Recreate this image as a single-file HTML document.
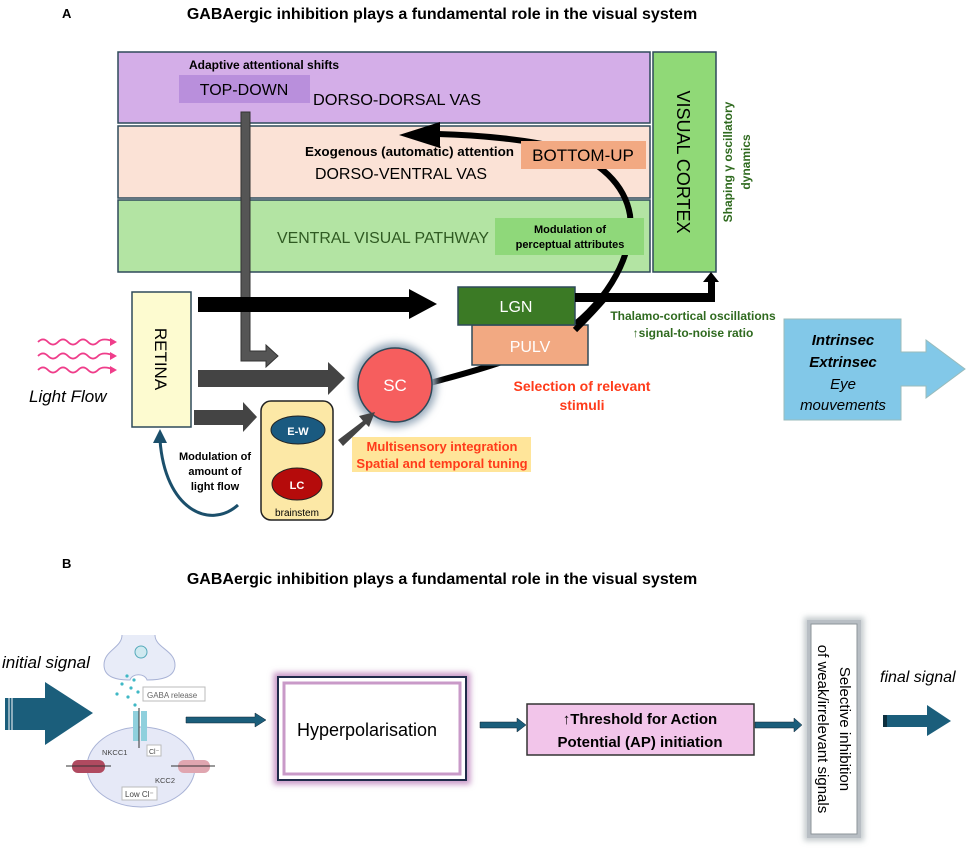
<!DOCTYPE html>
<html><head><meta charset="utf-8"><style>
html,body{margin:0;padding:0;background:#fff;}
svg{display:block;font-family:"Liberation Sans",sans-serif;}
</style></head><body>
<svg width="969" height="850" viewBox="0 0 969 850" xmlns="http://www.w3.org/2000/svg">
<defs>
<filter id="glow" x="-50%" y="-50%" width="200%" height="200%"><feGaussianBlur stdDeviation="4"/></filter>
<filter id="blur2" x="-20%" y="-20%" width="140%" height="140%"><feGaussianBlur stdDeviation="3"/></filter>
</defs>
<!-- Titles -->
<text x="62" y="18" font-size="13" font-weight="bold">A</text>
<text x="442" y="19" font-size="16" font-weight="bold" text-anchor="middle">GABAergic inhibition plays a fundamental role in the visual system</text>

<!-- bands -->
<rect x="118" y="52" width="532" height="71" fill="#d4aee8" stroke="#2e4a5a" stroke-width="1.5"/>
<rect x="118" y="126" width="532" height="72" fill="#fbe2d6" stroke="#2e4a5a" stroke-width="1.5"/>
<rect x="118" y="200" width="532" height="72" fill="#b3e4a3" stroke="#2e4a5a" stroke-width="1.5"/>
<rect x="653" y="52" width="63" height="220" fill="#90d977" stroke="#2e4a5a" stroke-width="1.5"/>
<text transform="translate(677,162) rotate(90)" font-size="18" text-anchor="middle">VISUAL CORTEX</text>
<text transform="translate(732,162) rotate(-90)" font-size="12" font-weight="bold" fill="#2f6a1f" text-anchor="middle">Shaping γ oscillatory</text>
<text transform="translate(750,162) rotate(-90)" font-size="12" font-weight="bold" fill="#2f6a1f" text-anchor="middle">dynamics</text>

<!-- big black curve (behind boxes) -->
<path d="M430,383 C470,372 520,360 560,335 C600,310 635,260 630,215 C625,185 600,160 560,148 C530,140 480,135 438,134" fill="none" stroke="#000" stroke-width="6"/>
<path d="M399,135 L440,122 L440,148 Z" fill="#000"/>

<rect x="179" y="75" width="131" height="28" fill="#b98fdc"/>
<text x="244" y="95" font-size="16" text-anchor="middle">TOP-DOWN</text>
<text x="189" y="69" font-size="12" font-weight="bold">Adaptive attentional shifts</text>
<text x="313" y="105" font-size="16" textLength="168" lengthAdjust="spacingAndGlyphs">DORSO-DORSAL VAS</text>

<text x="305" y="156" font-size="12.5" font-weight="bold" textLength="209" lengthAdjust="spacingAndGlyphs">Exogenous (automatic) attention</text>
<text x="315" y="179" font-size="16" textLength="172" lengthAdjust="spacingAndGlyphs">DORSO-VENTRAL VAS</text>
<rect x="521" y="141" width="125" height="28" fill="#f2a982"/>
<text x="583" y="161" font-size="17" text-anchor="middle">BOTTOM-UP</text>

<text x="277" y="243" font-size="16" fill="#2f5a22" textLength="212" lengthAdjust="spacingAndGlyphs">VENTRAL VISUAL PATHWAY</text>
<rect x="495" y="218" width="149" height="37" fill="#8fd87a"/>
<text x="570" y="233" font-size="11" font-weight="bold" text-anchor="middle">Modulation of</text>
<text x="570" y="248" font-size="11" font-weight="bold" text-anchor="middle">perceptual attributes</text>

<!-- gray top-down bar -->
<path d="M241,112 H250 V351 H266 V345 L278,356 L266,367 V361 H241 Z" fill="#555" stroke="#333" stroke-width="1"/>

<!-- retina -->
<rect x="132" y="292" width="59" height="135" fill="#fdfbd0" stroke="#2e4a5a" stroke-width="1.5"/>
<text transform="translate(155,359) rotate(90)" font-size="17" text-anchor="middle">RETINA</text>
<!-- light waves -->
<g fill="none" stroke="#ef3d8a" stroke-width="1.8">
<path d="M38,342 q5,-5 10,0 t10,0 t10,0 t10,0 t10,0 t10,0 t17,0"/>
<path d="M38,356 q5,-5 10,0 t10,0 t10,0 t10,0 t10,0 t10,0 t17,0"/>
<path d="M38,370 q5,-5 10,0 t10,0 t10,0 t10,0 t10,0 t10,0 t17,0"/>
</g>
<g fill="#ef3d8a"><path d="M117,342 l-7,-4 v8z"/><path d="M117,356 l-7,-4 v8z"/><path d="M117,370 l-7,-4 v8z"/></g>
<text x="29" y="402" font-size="17" font-style="italic">Light Flow</text>

<!-- black arrow retina -> LGN -->
<path d="M198,297 H409 V289 L437,304 L409,319 V312 H198 Z" fill="#000"/>
<!-- gray arrow retina -> SC -->
<path d="M198,370 H328 V362 L345,378 L328,395 V387 H198 Z" fill="#444"/>
<!-- gray arrow retina -> brainstem -->
<path d="M194,410 H243 V402 L257,417 L243,432 V425 H194 Z" fill="#444"/>

<!-- LGN/PULV -->
<rect x="472" y="325" width="116" height="40" fill="#f2a982" stroke="#2e4a5a" stroke-width="1.5"/>
<text x="530" y="352" font-size="16" fill="#fff" text-anchor="middle">PULV</text>
<rect x="458" y="287" width="117" height="38" fill="#3b7a25" stroke="#2e4a5a" stroke-width="1.5"/>
<text x="516" y="312" font-size="16" fill="#fff" text-anchor="middle">LGN</text>
<path d="M575,330 C585,320 595,310 605,298" fill="none" stroke="#000" stroke-width="6"/>
<!-- LGN -> cortex -->
<path d="M575,293 H708 V282 H703 L711,272 L719,282 H715 V302 H575 Z" fill="#000"/>
<text x="693" y="320" font-size="12" font-weight="bold" fill="#2f6a1f" text-anchor="middle">Thalamo-cortical oscillations</text>
<text x="693" y="337" font-size="12" font-weight="bold" fill="#2f6a1f" text-anchor="middle">↑signal-to-noise ratio</text>

<!-- SC -->
<circle cx="395" cy="385" r="42" fill="#9ab" filter="url(#glow)"/>
<circle cx="395" cy="385" r="37" fill="#f65e5e" stroke="#2e4a5a" stroke-width="1.5"/>
<text x="395" y="391" font-size="17" fill="#fff" text-anchor="middle">SC</text>
<text x="582" y="391" font-size="14" font-weight="bold" fill="#ff3b1a" text-anchor="middle">Selection of relevant</text>
<text x="582" y="410" font-size="14" font-weight="bold" fill="#ff3b1a" text-anchor="middle">stimuli</text>

<rect x="352" y="437" width="179" height="35" fill="#ffe59a"/>
<text x="442" y="451" font-size="13" font-weight="bold" fill="#ff3b1a" text-anchor="middle">Multisensory integration</text>
<text x="442" y="468" font-size="13" font-weight="bold" fill="#ff3b1a" text-anchor="middle">Spatial and temporal tuning</text>

<!-- brainstem -->
<rect x="261" y="401" width="72" height="119" rx="10" fill="#fce8a6" stroke="#222" stroke-width="1.5"/>
<ellipse cx="298" cy="430" rx="27" ry="14" fill="#1a5a80" stroke="#222"/>
<text x="298" y="435" font-size="11" font-weight="bold" fill="#fff" text-anchor="middle">E-W</text>
<ellipse cx="297" cy="484" rx="25" ry="16" fill="#b50b0b" stroke="#222"/>
<text x="297" y="489" font-size="11" font-weight="bold" fill="#fff" text-anchor="middle">LC</text>
<text x="297" y="516" font-size="10" text-anchor="middle">brainstem</text>
<!-- diagonal arrow -->
<path d="M338,440 L363,421 L359,416 L375,412 L369,427 L366,424 L343,446 Z" fill="#444"/>

<!-- blue curved arrow -->
<path d="M238,505 C210,530 165,510 160,440" fill="none" stroke="#1b4f6b" stroke-width="3"/>
<path d="M160,429 L153,443 L167,443 Z" fill="#1b4f6b"/>
<text x="215" y="460" font-size="11" font-weight="bold" text-anchor="middle">Modulation of</text>
<text x="215" y="475" font-size="11" font-weight="bold" text-anchor="middle">amount of</text>
<text x="215" y="490" font-size="11" font-weight="bold" text-anchor="middle">light flow</text>

<!-- eye movements -->
<path d="M784,319 H901 V352 H926 V340 L965,369 L926,398 V386 H901 V420 H784 Z" fill="#82c8e8" stroke="#9bb" stroke-width="1"/>
<text x="843" y="345" font-size="15" font-weight="bold" font-style="italic" text-anchor="middle">Intrinsec</text>
<text x="843" y="367" font-size="15" font-weight="bold" font-style="italic" text-anchor="middle">Extrinsec</text>
<text x="843" y="389" font-size="15" font-style="italic" text-anchor="middle">Eye</text>
<text x="843" y="410" font-size="15" font-style="italic" text-anchor="middle">mouvements</text>

<!-- PART B -->
<text x="62" y="568" font-size="13" font-weight="bold">B</text>
<text x="442" y="584" font-size="16" font-weight="bold" text-anchor="middle">GABAergic inhibition plays a fundamental role in the visual system</text>

<text x="2" y="668" font-size="17" font-style="italic">initial signal</text>
<path d="M5,698 H45 V682 L93,713 L45,745 V730 H5 Z" fill="#1b5e7b"/>
<g stroke="#fff" stroke-width="1"><line x1="9" y1="698" x2="9" y2="730"/><line x1="12" y1="698" x2="12" y2="730"/></g>

<!-- synapse -->
<path d="M122,635 C122,648 104,650 104,665 C104,678 118,680 130,680 C132,673 145,673 147,680 C160,680 175,678 175,665 C175,650 155,648 155,635" fill="#e8ecf8" stroke="#a9b3d6" stroke-width="1"/>
<circle cx="141" cy="652" r="6" fill="#cfe9f0" stroke="#5ab" stroke-width="1"/>
<g fill="#3fb8c5"><circle cx="127" cy="676" r="1.6"/><circle cx="134" cy="680" r="1.6"/><circle cx="122" cy="684" r="1.6"/><circle cx="131" cy="688" r="1.6"/><circle cx="117" cy="694" r="1.6"/><circle cx="128" cy="697" r="1.6"/><circle cx="138" cy="692" r="1.6"/><circle cx="135" cy="705" r="1.6"/></g>
<rect x="143" y="687" width="62" height="14" fill="#fff" stroke="#bbb"/>
<text x="147" y="698" font-size="8" fill="#666">GABA release</text>
<ellipse cx="141" cy="767" rx="54" ry="40" fill="#e6e9f7" stroke="#a9b3d6"/>
<path d="M133,711 h6 v30 h-6 z M141,711 h6 v30 h-6 z" fill="#8fd0dd"/>
<line x1="139" y1="708" x2="139" y2="748" stroke="#333" stroke-width="1"/>
<text x="102" y="755" font-size="7.5" fill="#444">NKCC1</text>
<rect x="147" y="745" width="14" height="11" fill="#fff" stroke="#bbb"/><text x="149" y="754" font-size="7" fill="#444">Cl⁻</text>
<rect x="72" y="760" width="33" height="13" rx="6" fill="#b04a60"/>
<rect x="178" y="760" width="32" height="13" rx="6" fill="#e0a6b0"/>
<line x1="66" y1="766" x2="111" y2="766" stroke="#333"/><line x1="171" y1="766" x2="215" y2="766" stroke="#333"/>
<text x="155" y="783" font-size="7.5" fill="#444">KCC2</text>
<rect x="122" y="787" width="35" height="13" fill="#fff" stroke="#bbb"/><text x="125" y="797" font-size="8" fill="#444">Low Cl⁻</text>

<!-- arrows B -->
<path d="M186,717 H255 V713 L266,720 L255,727 V723 H186 Z" fill="#1b5e7b" stroke="#123" stroke-width="0.5"/>
<path d="M480,722 H517 V718 L526,725 L517,732 V728 H480 Z" fill="#1b5e7b" stroke="#123" stroke-width="0.5"/>
<path d="M755,722 H794 V718 L802,725 L794,732 V728 H755 Z" fill="#1b5e7b" stroke="#123" stroke-width="0.5"/>

<rect x="278" y="677" width="188" height="103" fill="none" stroke="#c99ac8" stroke-width="9" filter="url(#blur2)"/>
<rect x="278" y="677" width="188" height="103" fill="#fff" stroke="#1f2b4a" stroke-width="2"/>
<rect x="284" y="683" width="176" height="91" fill="none" stroke="#c99ac8" stroke-width="3"/>
<text x="297" y="736" font-size="18">Hyperpolarisation</text>

<rect x="527" y="704" width="227" height="51" fill="#f2c5ea" stroke="#333" stroke-width="1.5"/>
<text x="640" y="724" font-size="15" font-weight="bold" text-anchor="middle">↑Threshold for Action</text>
<text x="640" y="747" font-size="15" font-weight="bold" text-anchor="middle">Potential (AP) initiation</text>

<rect x="805" y="618" width="58" height="222" fill="#c8ccd0" stroke="#9aa" stroke-width="1" filter="url(#blur2)"/>
<rect x="807" y="620" width="54" height="218" fill="#b8bec4"/>
<rect x="811" y="624" width="46" height="210" fill="#fff" stroke="#8c949a"/>
<text transform="translate(840,729) rotate(90)" font-size="15" text-anchor="middle">Selective inhibition</text>
<text transform="translate(818,729) rotate(90)" font-size="15" text-anchor="middle">of weak/irrelevant signals</text>

<text x="880" y="682" font-size="16" font-style="italic">final signal</text>
<path d="M883,715 H927 V705 L951,721 L927,736 V727 H883 Z" fill="#1b5e7b"/>
<rect x="883" y="715" width="4" height="12" fill="#0d2f3e"/>
</svg>
</body></html>
